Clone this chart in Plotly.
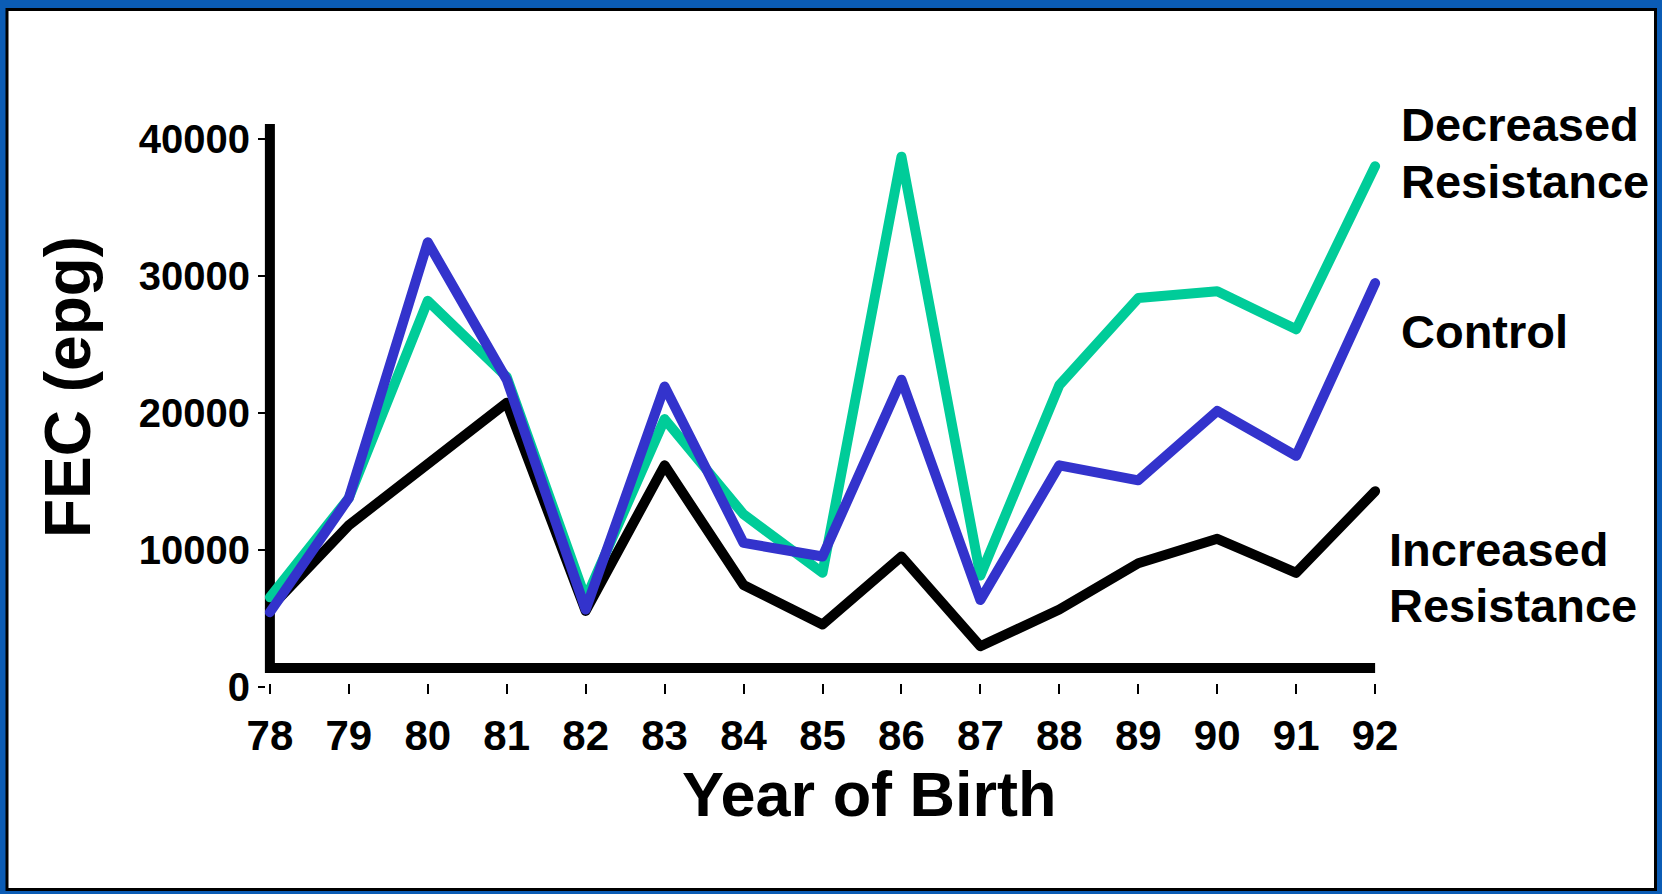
import plotly.graph_objects as go

# ---------------- data ----------------
years = [78, 79, 80, 81, 82, 83, 84, 85, 86, 87, 88, 89, 90, 91, 92]
decreased_resistance = [5200, 12500, 27000, 21400, 5100, 18300, 11300, 7000, 37600,
                        6800, 20800, 27200, 27700, 24900, 36900]
control = [4100, 12500, 31300, 21200, 4300, 20700, 9200, 8200, 21200,
           5000, 14900, 13800, 18900, 15600, 28300]
increased_resistance = [4400, 10500, 15000, 19500, 4200, 14900, 6100, 3200, 8200,
                        1600, 4300, 7700, 9500, 7000, 13000]
y_tick_values = [0, 10000, 20000, 30000, 40000]
y_tick_labels = ["0", "10000", "20000", "30000", "40000"]
x_tick_labels = [str(v) for v in years]

# ---------------- layout geometry ----------------
W, H = 1662, 894
ML, MR, MT, MB = 262, 279, 124, 194
PW = W - ML - MR
PH = H - MT - MB
FONT = "Liberation Sans, Arial, sans-serif"


def xp(px):
    return (px - ML) / PW


def yp(py):
    return (H - MB - py) / PH


GREEN = "#00CC99"
BLUE = "#3333CC"
BLACK = "#000000"

fig = go.Figure()
fig.add_trace(go.Scatter(x=years, y=increased_resistance, mode="lines",
                         line=dict(color=BLACK, width=10), showlegend=False,
                         name="Increased Resistance"))
fig.add_trace(go.Scatter(x=years, y=decreased_resistance, mode="lines",
                         line=dict(color=GREEN, width=10), showlegend=False,
                         name="Decreased Resistance"))
fig.add_trace(go.Scatter(x=years, y=control, mode="lines",
                         line=dict(color=BLUE, width=10), showlegend=False,
                         name="Control"))
# carrier trace for the labelled y axis
fig.add_trace(go.Scatter(x=[None], y=[None], yaxis="y2", showlegend=False,
                         hoverinfo="skip"))

# label axis scale (labels sit slightly below their data level, as in the original)
lab_top_px, lab_bot_px = 139, 687
scale = (lab_bot_px - lab_top_px) / (y_tick_values[-1] - y_tick_values[0])
y2_range = [(lab_bot_px - (H - MB)) / scale, (lab_bot_px - MT) / scale]

shapes = [
    dict(type="rect", xref="paper", yref="paper",
         x0=xp(7), x1=xp(1655.5), y0=yp(889.5), y1=yp(9.5),
         fillcolor="white", line=dict(color="black", width=3), layer="below"),
    dict(type="line", xref="x", yref="paper",
         x0=years[0], x1=years[0], y0=yp(673), y1=yp(124),
         line=dict(color="black", width=10), layer="below"),
    dict(type="line", xref="x", yref="paper",
         x0=years[0], x1=years[-1], y0=yp(668), y1=yp(668),
         line=dict(color="black", width=10), layer="below"),
]

label_font = dict(family=FONT, size=47, color="black", weight="bold")
annotations = []
for text, px, py in [("Decreased", 1399, 124), ("Resistance", 1399, 181),
                     ("Control", 1399, 331),
                     ("Increased", 1387, 549), ("Resistance", 1387, 605)]:
    annotations.append(dict(text=text, x=xp(px), y=yp(py), xref="paper", yref="paper",
                            xanchor="left", yanchor="middle", showarrow=False,
                            font=label_font))
annotations.append(dict(text="FEC (epg)", x=xp(68), y=yp(387), xref="paper", yref="paper",
                        xanchor="center", yanchor="middle", textangle=-90, showarrow=False,
                        font=dict(family=FONT, size=64, color="black", weight="bold")))
annotations.append(dict(text="Year of Birth", x=xp(869), y=yp(794), xref="paper", yref="paper",
                        xanchor="center", yanchor="middle", showarrow=False,
                        font=dict(family=FONT, size=63, color="black", weight="bold")))

fig.update_layout(
    width=W, height=H,
    margin=dict(l=ML, r=MR, t=MT, b=MB, pad=0),
    paper_bgcolor="#0B5CB5",
    plot_bgcolor="rgba(0,0,0,0)",
    showlegend=False,
    xaxis=dict(range=[years[0] - 0.1, years[-1] + 0.1], anchor="free", position=yp(683),
               tickmode="array", tickvals=years, ticktext=x_tick_labels,
               ticks="outside", ticklen=10, tickwidth=2, tickcolor="black",
               ticklabelstandoff=6,
               showline=False, showgrid=False, zeroline=False,
               tickfont=dict(family=FONT, size=42, color="black", weight="bold")),
    yaxis=dict(domain=[yp(668), 1], range=[0, 40000], visible=False),
    yaxis2=dict(domain=[0, 1], range=y2_range, anchor="free", position=xp(265), side="left",
                tickmode="array", tickvals=y_tick_values, ticktext=y_tick_labels,
                ticks="outside", ticklen=7, tickwidth=2, tickcolor="black",
                showline=False, showgrid=False, zeroline=False,
                tickfont=dict(family=FONT, size=40, color="black", weight="bold")),
    shapes=shapes,
    annotations=annotations,
)

post = (
    "document.body.style.margin='0';"
    "document.querySelectorAll('.js-line').forEach(function(p){"
    "p.style.strokeLinejoin='round';p.style.strokeLinecap='round';});"
)
fig.write_html("out.html", post_script=post, config={"displayModeBar": False})
